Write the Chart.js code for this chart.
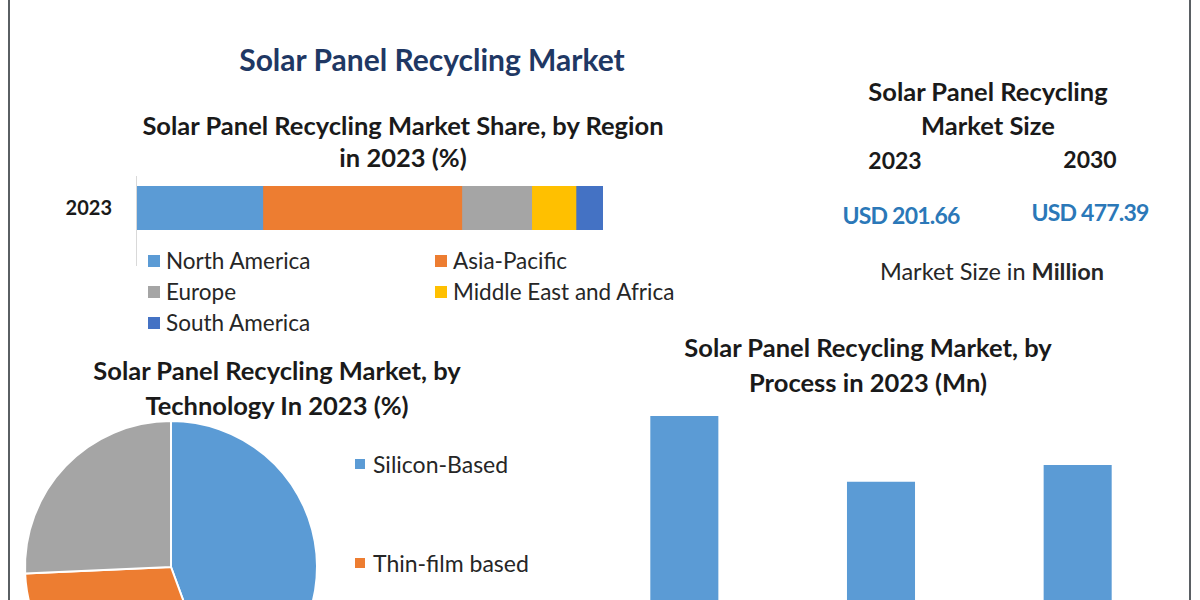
<!DOCTYPE html>
<html>
<head>
<meta charset="utf-8">
<script src="https://cdn.jsdelivr.net/npm/chart.js@4"></script>
<style>
    html, body { margin: 0; padding: 0; }
    body {
        width: 1200px;
        height: 600px;
        overflow: hidden;
        position: relative;
        background: #ffffff;
        font-family: Lato, "Open Sans", sans-serif;
        color: #1a1a1a;
    }
    .frame-line { position: absolute; top: 0; width: 2px; height: 600px; background: #5a5f63; }
    .txt { position: absolute; white-space: nowrap; text-align: center; line-height: 1; }
    .bold { font-weight: 700; }
    .box { position: absolute; }
    .legend { position: absolute; font-size: 22.5px; color: #262626; }
    .legend .item { display: flex; align-items: center; height: 31px; }
    .legend .sw { width: 12px; height: 12px; margin-right: 6px; }
</style>
</head>
<body>
<div class="frame-line" style="left:8px"></div>
<div class="frame-line" style="left:1189px"></div>

<div class="txt bold" style="left:132px;width:600px;top:44px;font-size:30px;color:#1f3864">Solar Panel Recycling Market</div>

<div class="txt bold" style="left:103px;width:600px;top:113px;font-size:25.5px">Solar Panel Recycling Market Share, by Region</div>
<div class="txt bold" style="left:103px;width:600px;top:145px;font-size:25.5px">in 2023 (%)</div>

<div class="txt bold" id="regionYearLabel" style="left:12px;width:100px;top:197px;font-size:20px;text-align:right"></div>
<div class="box" style="left:136px;top:176px;width:0;height:90px;border-left:1px solid #d9d9d9"></div>
<div class="box" style="left:137px;top:186px;width:466px;height:44px"><canvas id="regionChart"></canvas></div>
<div class="legend" id="regionLegend" style="left:148px;top:245px;display:grid;grid-template-columns:287px auto"></div>

<div class="txt bold" style="left:688px;width:600px;top:79px;font-size:25.5px">Solar Panel Recycling</div>
<div class="txt bold" style="left:688px;width:600px;top:113px;font-size:25.5px">Market Size</div>
<div class="txt bold" style="left:795px;width:200px;top:149px;font-size:23px" id="year2023"></div>
<div class="txt bold" style="left:990px;width:200px;top:148px;font-size:23px" id="year2030"></div>
<div class="txt bold" style="left:801px;width:200px;top:204px;font-size:23px;color:#2b78b8;letter-spacing:-0.8px" id="size2023"></div>
<div class="txt bold" style="left:990px;width:200px;top:201px;font-size:23px;color:#2b78b8;letter-spacing:-0.8px" id="size2030"></div>
<div class="txt" style="left:792px;width:400px;top:260px;font-size:23.5px;color:#262626">Market Size in <span class="bold">Million</span></div>

<div class="txt bold" style="left:-23px;width:600px;top:358px;font-size:25.5px">Solar Panel Recycling Market, by</div>
<div class="txt bold" style="left:-23px;width:600px;top:393px;font-size:25.5px">Technology In 2023 (%)</div>

<div class="box" style="left:21px;top:417px;width:300px;height:300px"><canvas id="techChart"></canvas></div>
<div class="legend" id="techLegend" style="left:355px;top:414px;font-size:23px"></div>

<div class="txt bold" style="left:568px;width:600px;top:335px;font-size:25.5px">Solar Panel Recycling Market, by</div>
<div class="txt bold" style="left:568px;width:600px;top:370px;font-size:25.5px">Process in 2023 (Mn)</div>

<div class="box" style="left:586px;top:400px;width:590px;height:240px"><canvas id="processChart"></canvas></div>

<script>
// market size (USD Mn)
const sizeYears = ["2023", "2030"];
const sizeValues = [201.66, 477.39];

// share by region, 2023 (%)
const regionYear = ["2023"];
const regionNames = ["North America", "Asia-Pacific", "Europe", "Middle East and Africa", "South America"];
const regionShares = [27.0, 42.7, 15.0, 9.5, 5.8];
const regionColors = ["#5b9bd5", "#ed7d31", "#a5a5a5", "#ffc000", "#4472c4"];

// share by technology, 2023 (%)
const techNames = ["Silicon-Based", "Thin-film based", "Others"];
const techShares = [44.4, 29.9, 25.7];
const techColors = ["#5b9bd5", "#ed7d31", "#a5a5a5"];

// market by process, 2023 (Mn)
const processNames = ["Mechanical", "Thermal", "Laser"];
const processValues = [84.0, 59.3, 65.6];

Chart.defaults.font.family = "Lato, 'Open Sans', sans-serif";
Chart.defaults.animation = false;

document.getElementById("year2023").textContent = sizeYears[0];
document.getElementById("year2030").textContent = sizeYears[1];
document.getElementById("size2023").textContent = "USD " + sizeValues[0].toFixed(2);
document.getElementById("size2030").textContent = "USD " + sizeValues[1].toFixed(2);
document.getElementById("regionYearLabel").textContent = regionYear[0];

function buildLegend(id, names, colors, rowHeight) {
    const el = document.getElementById(id);
    names.forEach((name, i) => {
        const item = document.createElement("div");
        item.className = "item";
        if (rowHeight) item.style.height = rowHeight + "px";
        const sw = document.createElement("span");
        sw.className = "sw";
        sw.style.background = colors[i];
        if (rowHeight) { sw.style.width = "10px"; sw.style.height = "10px"; sw.style.marginRight = "8px"; }
        const label = document.createElement("span");
        label.textContent = name;
        item.appendChild(sw);
        item.appendChild(label);
        el.appendChild(item);
    });
}

buildLegend("regionLegend", regionNames, regionColors);
buildLegend("techLegend", techNames, techColors, 99);

new Chart(document.getElementById("regionChart"), {
    type: "bar",
    data: {
        labels: regionYear,
        datasets: regionNames.map((name, i) => ({
            label: name,
            data: [regionShares[i]],
            backgroundColor: regionColors[i],
            borderWidth: 0,
            categoryPercentage: 1,
            barPercentage: 1
        }))
    },
    options: {
        indexAxis: "y",
        responsive: true,
        maintainAspectRatio: false,
        layout: { padding: 0 },
        plugins: { legend: { display: false }, tooltip: { enabled: false } },
        scales: {
            x: { stacked: true, min: 0, max: 100, display: false },
            y: { stacked: true, display: false }
        }
    }
});

new Chart(document.getElementById("techChart"), {
    type: "pie",
    data: {
        labels: techNames,
        datasets: [{
            data: techShares,
            backgroundColor: techColors,
            borderColor: "#ffffff",
            borderWidth: 2
        }]
    },
    options: {
        responsive: true,
        maintainAspectRatio: false,
        radius: 146,
        layout: { padding: 0 },
        plugins: { legend: { display: false }, tooltip: { enabled: false } }
    }
});

new Chart(document.getElementById("processChart"), {
    type: "bar",
    data: {
        labels: processNames,
        datasets: [{
            label: "Process",
            data: processValues,
            backgroundColor: "#5b9bd5",
            categoryPercentage: 1,
            barPercentage: 0.346
        }]
    },
    options: {
        responsive: true,
        maintainAspectRatio: false,
        layout: { padding: 0 },
        plugins: { legend: { display: false }, tooltip: { enabled: false } },
        scales: {
            x: { display: false },
            y: { display: false, min: 0, max: 90 }
        }
    }
});
</script>
</body>
</html>
